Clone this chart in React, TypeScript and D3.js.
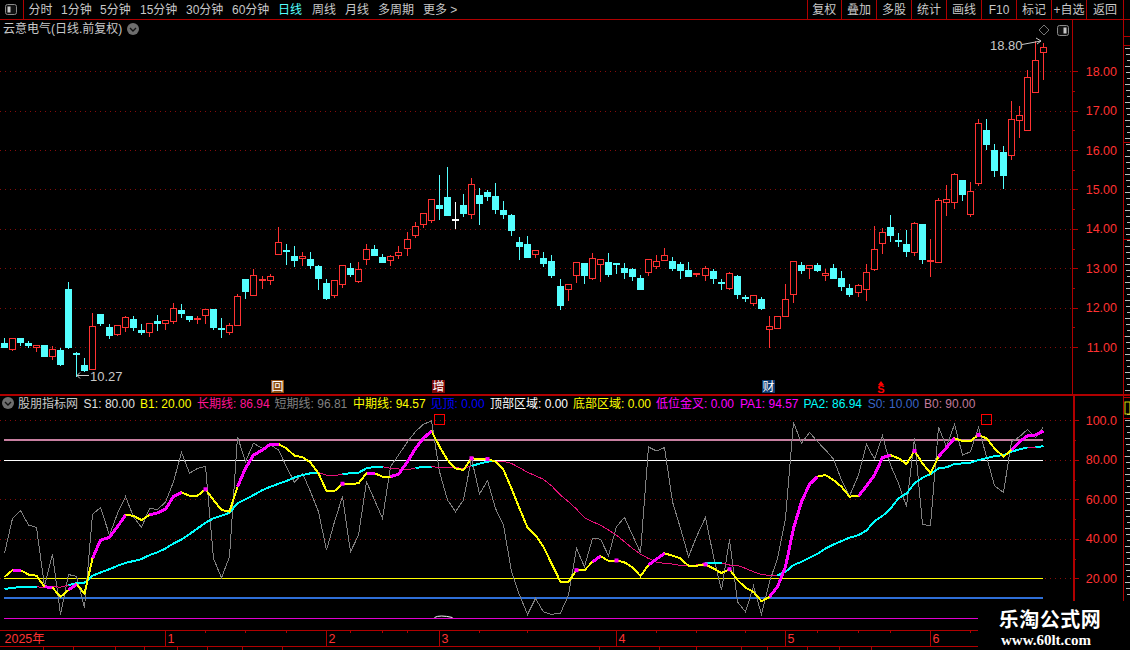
import React from 'react';
import * as d3 from 'd3';

const opens = [11.10,10.96,11.22,11.10,11.00,11.05,10.78,10.93,12.48,10.85,10.55,10.43,11.84,11.51,11.34,11.52,11.71,11.43,11.37,11.66,11.60,11.65,11.94,11.79,11.71,11.80,11.97,11.49,11.39,11.57,12.73,12.33,12.69,12.71,13.35,13.46,13.30,13.27,13.23,13.05,12.62,12.32,12.60,13.00,12.68,13.24,13.48,13.28,13.21,13.34,13.52,13.85,14.13,14.23,14.60,14.80,14.24,14.60,14.38,14.86,14.93,14.83,14.47,14.35,13.66,13.61,13.35,13.25,13.18,12.56,12.47,12.82,13.13,12.74,13.10,13.17,13.14,13.01,12.98,12.74,12.90,13.05,13.20,13.18,13.12,12.96,12.85,12.82,12.94,12.66,12.49,12.81,12.28,12.11,12.23,11.45,11.47,11.78,12.34,13.07,13.01,13.07,12.84,13.01,12.75,12.49,12.40,12.48,12.98,13.65,14.04,13.71,13.61,13.42,14.12,13.19,13.17,14.69,14.69,15.24,14.38,15.17,16.51,16.00,15.95,15.88,16.77,16.52,17.48,18.50];
const closes = [11.00,11.22,11.13,11.06,11.04,10.77,10.94,10.57,11.00,10.81,10.42,11.53,11.61,11.31,11.55,11.76,11.51,11.38,11.60,11.61,11.68,11.99,11.87,11.71,11.74,11.96,11.51,11.46,11.55,12.29,12.43,12.83,12.72,12.80,13.66,13.44,13.20,13.32,13.08,12.75,12.24,12.69,13.09,12.85,12.99,13.50,13.33,13.15,13.32,13.40,13.75,14.08,14.39,14.77,14.52,14.35,14.24,14.40,15.13,14.65,14.83,14.50,14.37,13.97,13.56,13.28,13.47,13.13,12.82,12.07,12.60,13.16,12.84,13.26,13.24,12.86,13.12,12.91,12.79,12.48,13.24,13.18,13.34,13.01,12.96,12.79,12.89,13.01,12.76,12.62,12.88,12.35,12.24,12.32,12.00,11.53,11.79,12.22,13.18,12.96,13.07,12.96,12.89,12.76,12.54,12.34,12.58,12.91,13.50,13.91,13.85,13.69,13.43,14.16,13.23,13.22,14.72,14.75,15.38,14.89,14.95,16.68,16.15,15.49,15.36,16.80,16.88,17.85,18.28,18.61];
const highs = [11.26,11.22,11.22,11.18,11.08,11.08,11.05,10.99,12.68,10.90,10.75,11.89,11.87,11.61,11.58,11.81,11.81,11.61,11.63,11.84,11.71,12.15,12.12,11.82,11.82,11.96,11.97,11.77,11.64,12.37,12.73,13.00,12.83,12.88,14.08,13.63,13.58,13.43,13.43,13.10,12.75,12.72,13.09,13.15,13.18,13.63,13.61,13.38,13.36,13.58,13.94,14.19,14.42,14.77,15.39,15.59,14.70,14.91,15.31,15.06,15.01,15.19,14.73,14.40,13.81,13.84,13.47,13.43,13.36,12.74,12.60,13.18,13.16,13.41,13.27,13.40,13.17,13.17,13.04,12.86,13.24,13.37,13.55,13.32,13.18,13.19,12.91,13.09,13.01,12.74,12.94,12.86,12.35,12.32,12.30,11.82,11.79,12.63,13.18,13.19,13.07,13.17,13.01,13.14,12.95,12.62,12.63,13.13,14.09,14.04,14.37,13.91,13.99,14.19,14.12,13.76,14.80,15.13,15.44,15.26,15.21,16.81,16.81,16.18,16.13,17.27,17.14,18.06,18.80,18.75];
const lows = [10.99,10.93,11.05,11.00,10.90,10.77,10.70,10.55,10.98,10.27,10.39,10.43,11.56,11.23,11.31,11.41,11.43,11.33,11.28,11.43,11.46,11.61,11.77,11.66,11.61,11.61,11.46,11.26,11.33,11.56,12.25,12.32,12.50,12.60,13.35,13.10,13.05,13.08,13.00,12.47,12.21,12.26,12.52,12.80,12.64,13.10,13.33,13.15,13.08,13.25,13.33,13.79,14.04,14.17,14.25,14.35,14.02,14.32,14.27,14.12,14.73,14.40,14.27,13.84,13.23,13.28,13.28,13.05,12.77,11.97,12.20,12.66,12.63,12.72,12.68,12.81,12.89,12.74,12.71,12.46,12.84,13.01,13.20,12.96,12.76,12.79,12.79,12.71,12.63,12.46,12.48,12.25,12.18,12.07,11.97,11.01,11.47,11.78,12.15,12.89,12.76,12.94,12.71,12.74,12.44,12.29,12.29,12.19,12.95,13.38,13.69,13.56,13.30,13.33,13.13,12.80,13.17,14.35,14.53,14.73,14.32,15.11,16.02,15.34,15.03,15.77,16.33,16.52,17.48,17.80];

const shortTerm = [32.7,50.4,54.4,47.0,45.8,16.1,32.2,1.8,22.0,21.0,5.3,52.4,55.9,41.9,52.9,61.4,51.2,45.8,55.4,54.9,58.6,68.9,83.8,73.2,75.7,76.7,30.1,20.3,31.0,91.7,79.1,88.4,85.8,87.5,85.0,76.5,68.6,73.2,63.9,53.8,34.3,48.7,61.4,33.5,41.9,68.9,59.7,50.4,76.5,82.4,89.2,94.3,98.0,99.7,74.0,59.7,53.8,59.7,80.8,62.7,69.5,55.4,47.0,23.4,11.6,1.8,9.9,3.1,1.8,2.5,11.6,35.2,25.9,40.3,39.9,31.5,46.2,50.9,41.9,33.0,86.5,84.5,86.2,58.8,45.3,31.0,41.1,50.9,31.0,14.1,39.7,8.2,3.1,16.1,1.8,18.3,30.1,50.4,99.0,88.4,93.9,89.2,85.0,80.4,69.8,61.7,72.3,87.8,80.4,92.2,77.4,68.1,56.3,90.9,47.3,46.7,96.5,86.7,98.0,82.4,84.1,96.5,81.6,66.9,63.5,89.2,91.7,95.4,91.2,96.81];
const midTerm = [20.8,24.2,24.2,22.0,21.4,15.8,15.4,10.7,14.1,17.1,12.4,30.1,39.4,40.8,46.2,52.1,51.7,49.5,52.1,53.2,55.1,61.4,63.5,61.9,61.9,65.1,59.7,54.6,53.8,66.4,75.7,82.4,85.0,88.0,88.0,85.8,82.1,81.3,78.6,73.2,64.2,64.2,67.9,67.9,68.1,73.2,73.2,71.5,71.5,72.7,79.1,85.8,90.9,94.6,86.7,79.9,75.7,74.9,80.8,80.4,80.4,79.1,74.9,65.6,55.4,45.8,41.9,36.0,27.6,18.3,18.3,24.2,24.2,28.4,31.3,28.9,29.1,28.1,25.6,21.2,26.8,29.8,32.7,31.5,30.1,26.4,26.4,27.1,25.1,22.7,24.7,19.2,15.3,13.2,8.5,10.7,15.8,25.9,45.3,58.8,67.6,71.5,72.3,69.8,66.4,61.4,61.7,66.8,72.3,81.1,82.4,80.8,77.9,84.5,78.2,73.2,81.6,86.2,90.9,89.5,89.5,92.6,90.9,85.8,81.6,85.0,89.2,92.2,92.6,94.57];
const longTerm = [14.6,15.3,15.6,15.8,15.8,15.4,15.9,15.6,16.6,17.6,17.8,21.4,23.0,24.7,26.4,27.9,28.8,29.8,31.8,33.2,35.2,37.7,39.7,42.4,45.3,48.2,50.4,51.7,53.2,58.0,60.0,62.2,64.7,66.4,67.9,69.3,71.1,72.3,73.2,73.5,72.3,72.0,72.8,73.2,73.5,75.7,76.5,76.5,75.7,75.4,75.0,75.9,76.4,76.5,76.2,76.2,76.0,75.7,76.9,78.1,79.1,79.4,79.2,78.2,76.0,73.7,72.0,70.1,66.9,62.2,58.8,55.1,50.7,48.7,47.0,44.5,41.9,38.6,35.2,32.3,30.1,28.3,27.6,27.3,26.6,26.4,26.8,27.6,27.9,27.9,26.8,26.6,25.1,23.4,22.0,21.5,21.5,23.4,26.8,28.4,30.5,32.5,35.2,37.2,38.9,40.6,41.9,44.3,49.0,51.6,55.4,60.5,63.0,68.1,71.0,72.8,75.7,76.2,77.9,78.2,78.6,79.9,80.8,81.9,82.4,84.1,85.3,86.3,86.3,86.94];

// candle index ranges where the two thick lines change colour
const midUpRanges = [[1,2],[5,6],[8,9],[11,15],[18,22],[25,25],[29,34],[42,42],[45,46],[48,53],[58,58],[60,60],[71,71],[73,74],[76,76],[80,82],[87,87],[90,90],[95,101],[106,110],[113,113],[116,118],[121,121],[125,129]];
const longUpRanges = [[0,4],[5,6],[8,39],[42,47],[51,53],[58,61],[87,89],[96,127],[128,129]];

const priceTicks = [11, 12, 13, 14, 15, 16, 17, 18];
const priceMinor = [11.5, 12.5, 13.5, 14.5, 15.5, 16.5, 17.5];
const indTicks = [100, 80, 60, 40, 20];
const indMinor = [90, 70, 50, 30];
const monthLabels = ['1', '2', '3', '4', '5', '6'];
const monthIdx = [20, 40, 54, 76, 97, 115];
const weekIdx = [25, 30, 35, 43, 47, 50, 59, 65, 81, 86, 92, 101, 106, 110, 120];
const signalIdx = [54, 122];

const periods = ['分时', '1分钟', '5分钟', '15分钟', '30分钟', '60分钟', '日线', '周线', '月线', '多周期', '更多 >'];
const periodX = [28.5, 61, 100, 140, 186, 232, 278, 312, 345, 378, 423];
const buttons = ['复权', '叠加', '多股', '统计', '画线', 'F10', '标记', '+自选', '返回'];
const buttonEdges = [807, 841.5, 876.5, 911.5, 946.5, 981.5, 1016.5, 1051.5, 1086.5, 1123.5];

const legendText = ['S1: 80.00', 'B1: 20.00', '长期线: 86.94', '短期线: 96.81', '中期线: 94.57', '见顶: 0.00', '顶部区域: 0.00', '底部区域: 0.00', '低位金叉: 0.00', 'PA1: 94.57', 'PA2: 86.94', 'S0: 10.00', 'B0: 90.00'];
const legendX = [83.6, 140, 197, 274.6, 353, 430.6, 490, 573, 656, 740, 803.5, 867.7, 924];
const legendColor = ['#e0e0e0', '#ffff00', '#ff1493', '#808080', '#ffff00', '#0000ff', '#ffffff', '#ffff00', '#ff00ff', '#ff00ff', '#00ffff', '#3a66c8', '#c07a9c'];

const sideRules = [36, 45, 142, 239.5, 336, 397.5, 418, 456];
const sideMarks = d3.range(48, 600, 6);
const tabEdges = [43, 73, 115, 144, 177, 207, 242, 282, 599, 659, 696, 741, 767, 807, 839, 871];

const RED = '#ff3232';
const CYAN = '#54ffff';
const AXIS = '#b00000';
const GRID = '#860c0c';
const CJK = '"Liberation Sans", "Noto Sans CJK SC", sans-serif';

const x = d3.scaleLinear().domain([0, 129]).range([4.3, 1043.3]);
const yP = d3.scaleLinear().domain([11, 18]).range([347, 71.3]);
const yI = d3.scaleLinear().domain([0, 100]).range([618, 420.3]);
const px = (i: number) => Math.floor(x(i)) + 0.5;
const py = (v: number) => Math.round(yP(v)) + 0.5;
const pi = (v: number) => Math.round(yI(v)) + 0.5;

const lineGen = (vals: number[]) =>
  d3.line<number>().x((d) => px(d)).y((d) => yI(vals[d]));

const idx = (from: number, to: number) => d3.range(from, to + 1);

const Icon = ({ cx, cy }: { cx: number; cy: number }) => (
  <g>
    <circle cx={cx} cy={cy} r={6} fill="#6e6e6e" />
    <path d={`M${cx - 3},${cy - 1}L${cx},${cy + 2}L${cx + 3},${cy - 1}`} fill="none" stroke="#111" strokeWidth={1.4} />
  </g>
);

const PanelBtn = ({ bx, by, leftFill }: { bx: number; by: number; leftFill: boolean }) => (
  <g>
    <rect x={bx} y={by} width={11} height={10} rx={2} fill="#111" stroke="#8a8a8a" strokeWidth={1} />
    <rect x={leftFill ? bx + 2 : bx + 6} y={by + 2} width={3} height={6} fill="#c8c8c8" />
  </g>
);

export default function App() {
  return (
    <svg width={1130} height={650} style={{ position: 'fixed', left: 0, top: 0, background: '#000' }} fontFamily={CJK}>
      <rect width={1130} height={650} fill="#000" />

      {/* toolbar */}
      <g shapeRendering="crispEdges" stroke={AXIS}>
        <line x1={0} x2={1130} y1={19.5} y2={19.5} />
        <line x1={23.5} x2={23.5} y1={0} y2={19.5} />
        {buttonEdges.map((e) => <line key={e} x1={e} x2={e} y1={0} y2={19.5} />)}
      </g>
      <PanelBtn bx={5.5} by={4.5} leftFill={true} />
      {periods.map((p, i) => (
        <text key={p} x={periodX[i]} y={14} fontSize={12} fill={p === '日线' ? '#54ffff' : '#c8c8c8'}>{p}</text>
      ))}
      {buttons.map((b, i) => (
        <text key={b} x={(buttonEdges[i] + buttonEdges[i + 1]) / 2} y={14} fontSize={12} fill="#c8c8c8" textAnchor="middle">{b}</text>
      ))}

      <text x={3} y={33} fontSize={12} fill="#c8c8c8">云意电气(日线.前复权)</text>
      <Icon cx={133} cy={29} />
      <path d="M1044,25L1049,30L1044,35L1039,30Z" fill="none" stroke="#777" />
      <PanelBtn bx={1057.5} by={25.5} leftFill={false} />

      {/* grid */}
      <g stroke={GRID} strokeDasharray="1 4" shapeRendering="crispEdges">
        {priceTicks.map((t) => <line key={t} x1={0} x2={1072} y1={py(t)} y2={py(t)} />)}
        {indTicks.map((t) => <line key={t} x1={0} x2={1072} y1={pi(t)} y2={pi(t)} />)}
      </g>

      {/* candles */}
      <g shapeRendering="crispEdges">
        {opens.map((o, i) => {
          const c = closes[i];
          const cx = px(i);
          const doji = Math.abs(o - c) < 0.025;
          const up = c >= o;
          const color = o === c ? '#ffffff' : up ? RED : CYAN;
          const top = py(Math.max(o, c));
          const bot = py(Math.min(o, c));
          return (
            <g key={i}>
              <line x1={cx} x2={cx} y1={py(highs[i])} y2={py(lows[i])} stroke={color} />
              {doji ? (
                <rect x={cx - 3.5} y={top - 0.5} width={7} height={Math.max(bot - top, 1) + 1} fill={color} />
              ) : up ? (
                <rect x={cx - 3} y={top} width={6} height={bot - top} fill="#000" stroke={color} />
              ) : (
                <rect x={cx - 3.5} y={top - 0.5} width={7} height={bot - top + 1} fill={color} />
              )}
            </g>
          );
        })}
      </g>

      {/* price labels on the chart */}
      <g fill="#c8c8c8" stroke="none">
        <text x={990} y={50} fontSize={13}>18.80</text>
        <text x={90} y={381} fontSize={13}>10.27</text>
      </g>
      <g fill="none" stroke="#c8c8c8">
        <path d="M1022,44.5L1041,41M1036,38L1041,41L1037,44" />
        <path d="M89,375.5H77M80,372.5L77,375.5L80,378.5" />
      </g>

      {/* event markers */}
      <rect x={271} y={380} width={13} height={13} fill="#8a4a10" />
      <text x={277.5} y={391} fontSize={12} fill="#fff" textAnchor="middle">回</text>
      <rect x={432} y={380} width={13} height={13} fill="#7a0808" />
      <text x={438.5} y={391} fontSize={12} fill="#fff" textAnchor="middle">增</text>
      <rect x={762} y={380} width={13} height={13} fill="#0c3a70" />
      <text x={768.5} y={391} fontSize={12} fill="#fff" textAnchor="middle">财</text>
      <path d="M878,385L881,381L884,385Z" fill="#ff0000" />
      <text x={881} y={393} fontSize={11} fontWeight="bold" fill="#ff0000" textAnchor="middle">S</text>

      {/* right axis */}
      <g shapeRendering="crispEdges" stroke={AXIS}>
        <line x1={1072.5} x2={1072.5} y1={19.5} y2={394} />
        <line x1={0} x2={1130} y1={394.5} y2={394.5} strokeWidth={2} />
        <line x1={1073.5} x2={1073.5} y1={394} y2={601} strokeWidth={2} />
        <line x1={1123.5} x2={1123.5} y1={0} y2={601} />
        {priceTicks.map((t) => <line key={t} x1={1072} x2={1078} y1={py(t)} y2={py(t)} />)}
        {priceMinor.map((t) => <line key={t} x1={1072} x2={1075} y1={py(t)} y2={py(t)} />)}
        {indTicks.map((t) => <line key={t} x1={1073} x2={1079} y1={pi(t)} y2={pi(t)} />)}
        {indMinor.map((t) => <line key={t} x1={1073} x2={1076} y1={pi(t)} y2={pi(t)} />)}
        {sideRules.map((s) => <line key={s} x1={1123} x2={1130} y1={s} y2={s} />)}
      </g>
      {priceTicks.map((t) => (
        <text key={t} x={1117} y={yP(t) + 4.5} fontSize={12.5} fill={RED} textAnchor="end">{t.toFixed(2)}</text>
      ))}
      {indTicks.map((t) => (
        <text key={t} x={1117} y={yI(t) + 4.5} fontSize={12.5} fill={RED} textAnchor="end">{t === 100 ? '100.0' : t.toFixed(2)}</text>
      ))}
      {/* the sidebar text is cut off by the window edge in the screenshot */}
      <g stroke="#bdbdbd" shapeRendering="crispEdges">
        {sideMarks.filter((s) => s < 392 || s > 402).map((s, i) => (
          <line key={s} x1={1125 + (i % 3)} x2={1130} y1={s + 0.5} y2={s + 0.5} />
        ))}
      </g>
      <rect x={1125} y={402} width={5} height={12} fill="#000" stroke="#e0e000" />

      {/* indicator legend */}
      <Icon cx={8} cy={403} />
      <text x={18} y={408} fontSize={12} fill="#c8c8c8">股朋指标网</text>
      {legendText.map((t, i) => (
        <text key={t} x={legendX[i]} y={408} fontSize={12} fill={legendColor[i]}>{t}</text>
      ))}

      {/* indicator level lines */}
      <g shapeRendering="crispEdges">
        <line x1={x(0)} x2={x(129)} y1={440} y2={440} stroke="#c77fa0" strokeWidth={2} />
        <line x1={x(0)} x2={x(129)} y1={pi(80)} y2={pi(80)} stroke="#ffffff" />
        <line x1={x(0)} x2={x(129)} y1={pi(20)} y2={pi(20)} stroke="#ffff00" />
        <line x1={x(0)} x2={x(129)} y1={598} y2={598} stroke="#2f6fd8" strokeWidth={2} />
        <line x1={x(0)} x2={x(129)} y1={pi(0)} y2={pi(0)} stroke="#e000d0" />
      </g>

      {/* indicator lines */}
      <g fill="none" shapeRendering="crispEdges">
        <path d={lineGen(shortTerm)(idx(0, 129)) ?? ''} stroke="#808080" />
        <path d={lineGen(longTerm)(idx(0, 129)) ?? ''} stroke="#e8107a" />
        {longUpRanges.map(([a, b]) => (
          <path key={a} d={lineGen(longTerm)(idx(a, b)) ?? ''} stroke="#00ffff" strokeWidth={2} />
        ))}
        <path d={lineGen(midTerm)(idx(0, 129)) ?? ''} stroke="#ffff00" strokeWidth={2} />
        {midUpRanges.filter(([a, b]) => a !== b).map(([a, b]) => (
          <path key={a} d={lineGen(midTerm)(idx(a, b)) ?? ''} stroke="#ff00ff" strokeWidth={3} />
        ))}
      </g>
      {midUpRanges.filter(([a, b]) => a === b).map(([a]) => (
        <rect key={a} x={px(a) - 2} y={yI(midTerm[a]) - 2} width={4} height={4} fill="#ff00ff" />
      ))}

      {/* top signal squares */}
      {signalIdx.map((s) => (
        <rect key={s} x={px(s) - 5} y={414.5} width={10} height={10} fill="none" stroke="#ff0000" shapeRendering="crispEdges" />
      ))}
      <path d={`M${px(54) - 5},617.5Q${px(54)},614.5 ${px(54) + 13},617.5`} fill="none" stroke="#ffffff" />

      {/* date axis */}
      <g shapeRendering="crispEdges" stroke={AXIS}>
        <line x1={0} x2={978} y1={630.5} y2={630.5} />
        <line x1={0} x2={978} y1={646.5} y2={646.5} />
        {monthIdx.map((m) => <line key={m} x1={px(m)} x2={px(m)} y1={630} y2={646} />)}
        {weekIdx.map((w) => <line key={w} x1={px(w)} x2={px(w)} y1={630} y2={633} />)}
        {tabEdges.map((e) => <line key={e} x1={e + 0.5} x2={e + 0.5} y1={646} y2={650} />)}
      </g>
      <text x={4.5} y={643} fontSize={12.5} fill={RED}>2025年</text>
      {monthLabels.map((m, i) => (
        <text key={m} x={px(monthIdx[i]) + 2} y={643} fontSize={12.5} fill={RED}>{m}</text>
      ))}

      {/* watermark */}
      <rect x={978} y={601} width={152} height={49} fill="#000" />
      <text x={1050} y={627} fontSize={20} fontWeight="bold" fill="#fff" textAnchor="middle" letterSpacing={0.5} fontFamily='"Noto Sans CJK SC", sans-serif'>乐淘公式网</text>
      <text x={1046} y={645} fontSize={15} fontWeight="bold" fill="#fff" textAnchor="middle" fontFamily='"Liberation Serif", serif'>www.60lt.com</text>
    </svg>
  );
}
